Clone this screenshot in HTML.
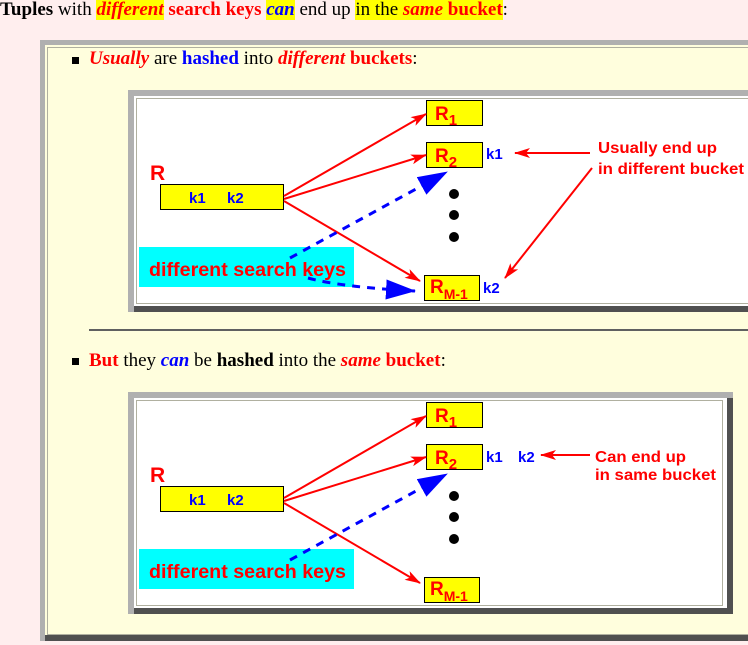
<!DOCTYPE html>
<html><head><meta charset="utf-8"><style>
body{margin:0;width:748px;height:645px;background:#ffeeee;overflow:hidden;position:relative;font-family:"Liberation Serif",serif;font-size:19px}
.a{position:absolute;white-space:nowrap}
.r{color:#ff0000}.b{color:#0000ff}.y{background:#ffff00}
</style></head><body>
<div class="a" style="left:0;top:-1px"><b>Tuples</b> with <span class="y r"><b><i>different</i></b></span> <b class="r">search keys</b> <span class="y b"><b><i>can</i></b></span> end up <span class="y">in the <b class="r"><i>same</i> bucket</b></span>:</div>
<div class="a" style="left:40px;top:40px;width:712px;height:601px;background:#b0b0b0"></div>
<div class="a" style="left:45px;top:635px;width:707px;height:6px;background:#505050"></div>
<div class="a" style="left:45px;top:45px;width:703px;height:590px;background:#fffedd"></div>
<div class="a" style="left:47px;top:47px;width:701px;height:586px;border:1px solid #b0b0a0;border-right:none"></div>
<div class="a" style="left:72px;top:57px;width:7px;height:7px;background:#000"></div>
<div class="a" style="left:89px;top:48px"><b class="r"><i>Usually</i></b> are <b class="b">hashed</b> into <b class="r"><i>different</i> buckets</b>:</div>
<div class="a" style="left:89px;top:329px;width:659px;height:2px;background:#606060"></div>
<div class="a" style="left:72px;top:358px;width:7px;height:7px;background:#000"></div>
<div class="a" style="left:89px;top:350px"><b class="r">But</b> they <b class="b"><i>can</i></b> be <b>hashed</b> into the <b class="r"><i>same</i> bucket</b>:</div>
<svg class="a" style="left:0;top:0" width="748" height="645" font-family="Liberation Sans, sans-serif" font-weight="bold">
<defs>
<marker id="ar" markerWidth="16" markerHeight="10" refX="15" refY="5" orient="auto" markerUnits="userSpaceOnUse"><path d="M0,0L16,5L0,10L4,5z" fill="#f00"/></marker>
<marker id="ab" markerWidth="30" markerHeight="20" refX="29" refY="10" orient="auto" markerUnits="userSpaceOnUse"><path d="M0,0L30,10L0,20z" fill="#00f"/></marker>
</defs>
<!-- diagram 1 -->
<rect x="128" y="90" width="624" height="222" fill="#b0b0b0"/>
<rect x="134" y="306" width="618" height="6" fill="#505050"/>
<rect x="134" y="96" width="618" height="210" fill="#fff"/>
<rect x="136.5" y="98.5" width="620" height="205" fill="none" stroke="#b0b0a0"/>
<g>
<rect x="426.5" y="100.5" width="56" height="25" fill="#ff0" stroke="#000"/>
<text x="435" y="120" fill="#f00" font-size="19">R<tspan font-size="15" dy="5">1</tspan></text>
<rect x="426.5" y="142.5" width="56" height="25" fill="#ff0" stroke="#000"/>
<text x="435" y="162" fill="#f00" font-size="19">R<tspan font-size="15" dy="5">2</tspan></text>
<text x="486" y="159" fill="#00f" font-size="15">k1</text>
<rect x="424.5" y="275.5" width="55" height="25" fill="#ff0" stroke="#000"/>
<text x="430" y="293" fill="#f00" font-size="19">R<tspan font-size="14" dy="6">M-1</tspan></text>
<text x="483" y="293" fill="#00f" font-size="15">k2</text>
<text x="150" y="180" fill="#f00" font-size="21">R</text>
<rect x="160.5" y="184.5" width="123" height="25" fill="#ff0" stroke="#000"/>
<text x="189" y="203" fill="#00f" font-size="15">k1</text><text x="227" y="203" fill="#00f" font-size="15">k2</text>
<circle cx="454" cy="194" r="5"/><circle cx="454" cy="215" r="5"/><circle cx="454" cy="237" r="5"/>
<rect x="139" y="247" width="215" height="40" fill="#0ff"/>
<text x="149" y="276" fill="#f00" font-size="19" textLength="197" lengthAdjust="spacingAndGlyphs">different search keys</text>
<g stroke="#f00" stroke-width="2" fill="none" marker-end="url(#ar)">
<line x1="284" y1="196" x2="426" y2="114"/>
<line x1="284" y1="199" x2="426" y2="155"/>
<line x1="284" y1="201" x2="420" y2="281"/>
<line x1="590" y1="153" x2="515" y2="153"/>
<line x1="592" y1="168" x2="505" y2="278"/>
</g>
<g stroke="#00f" stroke-width="3" stroke-dasharray="8,7" fill="none" marker-end="url(#ab)">
<line x1="290" y1="258" x2="447" y2="172"/>
<path d="M308,278 Q340,287 415,291"/>
</g>
<text x="598" y="153" fill="#f00" font-size="16" textLength="119" lengthAdjust="spacingAndGlyphs">Usually end up</text>
<text x="598" y="174" fill="#f00" font-size="16" textLength="146" lengthAdjust="spacingAndGlyphs">in different bucket</text>
</g>
<!-- diagram 2 -->
<rect x="128" y="392" width="605" height="222" fill="#b0b0b0"/>
<rect x="134" y="608" width="599" height="6" fill="#505050"/>
<rect x="727" y="398" width="6" height="216" fill="#505050"/>
<rect x="134" y="398" width="593" height="210" fill="#fff"/>
<rect x="136.5" y="400.5" width="586" height="205" fill="none" stroke="#b0b0a0"/>
<g>
<rect x="426.5" y="402.5" width="56" height="25" fill="#ff0" stroke="#000"/>
<text x="435" y="422" fill="#f00" font-size="19">R<tspan font-size="15" dy="5">1</tspan></text>
<rect x="426.5" y="444.5" width="56" height="25" fill="#ff0" stroke="#000"/>
<text x="435" y="464" fill="#f00" font-size="19">R<tspan font-size="15" dy="5">2</tspan></text>
<text x="486" y="462" fill="#00f" font-size="15">k1</text>
<text x="518" y="462" fill="#00f" font-size="15">k2</text>
<rect x="424.5" y="577.5" width="55" height="25" fill="#ff0" stroke="#000"/>
<text x="430" y="595" fill="#f00" font-size="19">R<tspan font-size="14" dy="6">M-1</tspan></text>
<text x="150" y="482" fill="#f00" font-size="21">R</text>
<rect x="160.5" y="486.5" width="123" height="25" fill="#ff0" stroke="#000"/>
<text x="189" y="505" fill="#00f" font-size="15">k1</text><text x="227" y="505" fill="#00f" font-size="15">k2</text>
<circle cx="454" cy="496" r="5"/><circle cx="454" cy="517" r="5"/><circle cx="454" cy="539" r="5"/>
<rect x="139" y="549" width="215" height="40" fill="#0ff"/>
<text x="149" y="578" fill="#f00" font-size="19" textLength="197" lengthAdjust="spacingAndGlyphs">different search keys</text>
<g stroke="#f00" stroke-width="2" fill="none" marker-end="url(#ar)">
<line x1="284" y1="498" x2="426" y2="416"/>
<line x1="284" y1="501" x2="426" y2="457"/>
<line x1="284" y1="503" x2="420" y2="583"/>
<line x1="590" y1="455" x2="541" y2="455"/>
</g>
<g stroke="#00f" stroke-width="3" stroke-dasharray="8,7" fill="none" marker-end="url(#ab)">
<line x1="290" y1="560" x2="447" y2="474"/>
</g>
<text x="595" y="462" fill="#f00" font-size="16" textLength="91" lengthAdjust="spacingAndGlyphs">Can end up</text>
<text x="595" y="480" fill="#f00" font-size="16" textLength="121" lengthAdjust="spacingAndGlyphs">in same bucket</text>
</g>
</svg>
</body></html>
